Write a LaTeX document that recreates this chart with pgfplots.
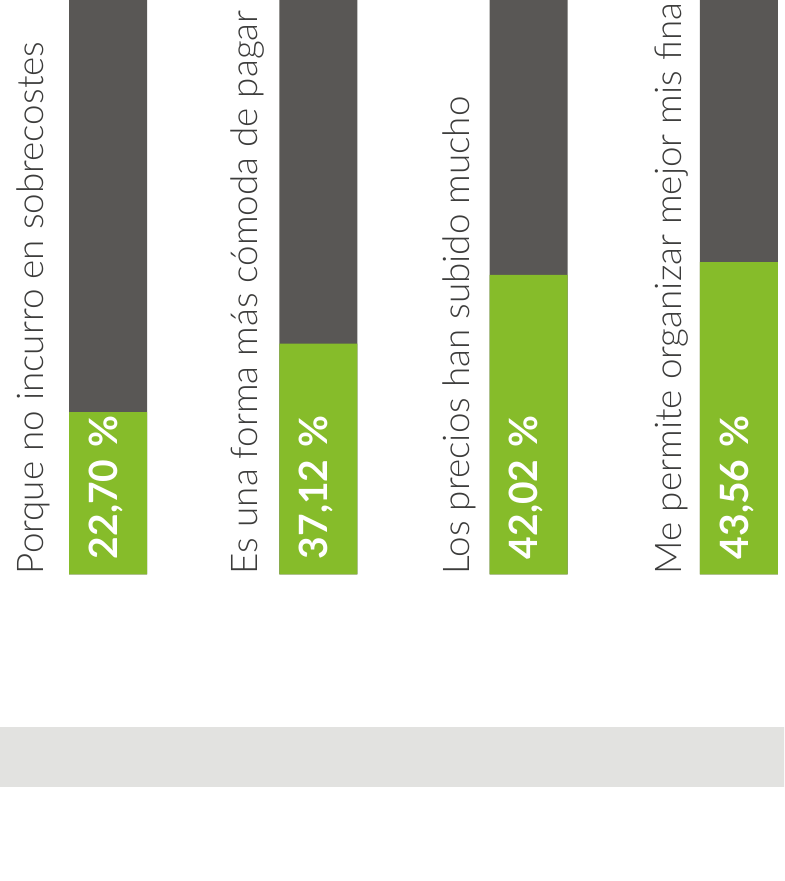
\documentclass[border=0pt]{standalone}
\usepackage{pgfplots}
\pgfplotsset{compat=1.18}
\usepackage{fontspec}
\setmainfont{Lato}
\IfFontExistsTF{Lato Light}{\newfontfamily\catfont{Lato Light}}{\newfontfamily\catfont{Lato}}
\newfontfamily\valfont{Lato}[UprightFont=* Bold]

\definecolor{verde}{HTML}{86BC2A}
\definecolor{oscuro}{HTML}{595755}
\definecolor{banda}{HTML}{E2E2E0}
\definecolor{texto}{HTML}{3C3C3B}

% green share as drawn; the dark part runs up to 100 and is cut by the frame
\pgfplotstableread{
x  verde   total
0  22.70   100
1  32.30   100
2  41.90   100
3  43.70   100
}\datos

\begin{document}
\begin{tikzpicture}
\useasboundingbox (0,0) rectangle (392pt,440.5pt);
\clip (0,0) rectangle (392pt,440.5pt);
\begin{axis}[
    at={(0,0)}, anchor=south west,
    scale only axis,
    width=392pt, height=440.5pt,
    xmin=-0.5136, xmax=3.2145,
    ymin=-42.87, ymax=80.35,
    axis lines=none,
    ticks=none,
]
% grey band under the chart
\addplot[fill=banda, draw=none, forget plot] coordinates {
    (-0.6,-21.33) (3.3,-21.33) (3.3,-29.72) (-0.6,-29.72)
} -- cycle;

\addplot[ybar, bar width=39pt, bar shift=0pt, fill=oscuro, draw=none]
    table[x=x, y=total] {\datos};
\addplot[ybar, bar width=39pt, bar shift=0pt, fill=verde, draw=none]
    table[x=x, y=verde] {\datos};

\tikzset{cat/.style={rotate=90, anchor=base west, inner sep=0pt, text=texto,
    font=\catfont\fontsize{18.4}{21}\selectfont},
  val/.style={rotate=90, anchor=west, inner sep=0pt, text=white,
    font=\valfont\fontsize{19.5}{22}\selectfont}}

\node[cat] at (axis cs:-0.309,0) {Porque no incurro en sobrecostes};
\node[cat] at (axis cs:0.710,0) {Es una forma más cómoda de pagar};
\node[cat] at (axis cs:1.720,0) {Los precios han subido mucho};
\node[cat] at (axis cs:2.729,0) {Me permite organizar mejor mis finanzas};

\node[val] at (axis cs:-0.01,2.1) {22,70\hspace{0.3em}\%};
\node[val] at (axis cs:0.99,2.1) {37,12\hspace{0.3em}\%};
\node[val] at (axis cs:1.99,2.1) {42,02\hspace{0.3em}\%};
\node[val] at (axis cs:2.99,2.1) {43,56\hspace{0.3em}\%};
\end{axis}
\end{tikzpicture}
\end{document}
